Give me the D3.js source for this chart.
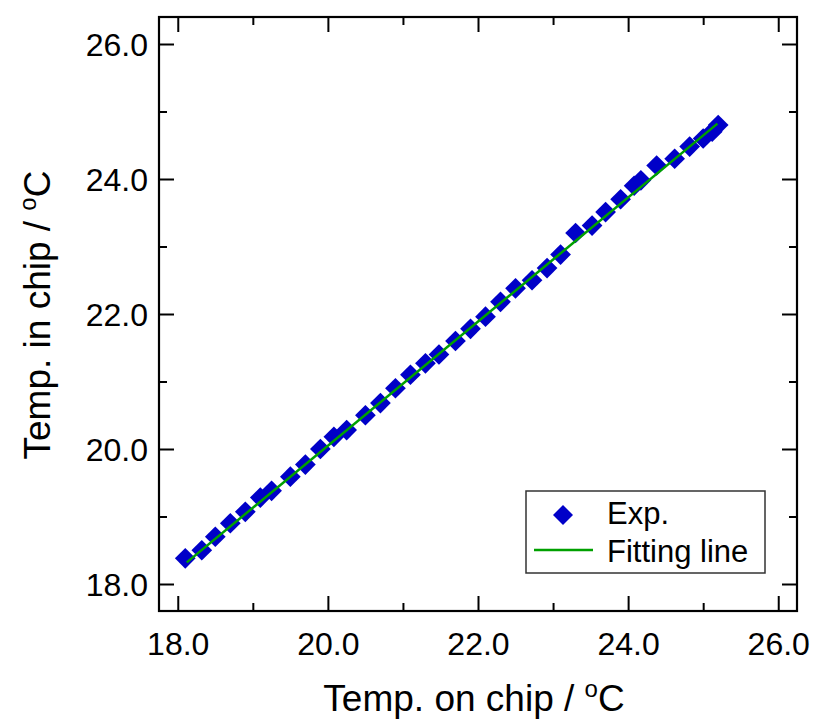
<!DOCTYPE html>
<html>
<head>
<meta charset="utf-8">
<script src="https://cdn.jsdelivr.net/npm/d3@7"></script>
<style>
  html, body { margin: 0; padding: 0; background: #fff; }
  svg { display: block; }
  text { font-family: "Liberation Sans", Arial, sans-serif; fill: #000; }
</style>
</head>
<body>
<svg id="chart" width="816" height="719"></svg>
<script>
// ---- data ----
const expX = [18.10, 18.32, 18.50, 18.70, 18.90, 19.10, 19.25, 19.50, 19.70, 19.90,
              20.08, 20.25, 20.50, 20.70, 20.90, 21.10, 21.30, 21.48, 21.70, 21.90,
              22.10, 22.30, 22.50, 22.72, 22.92, 23.10, 23.30, 23.52, 23.70, 23.90,
              24.08, 24.17, 24.38, 24.62, 24.82, 25.00, 25.12, 25.20];
const expY = [18.38, 18.50, 18.70, 18.90, 19.07, 19.28, 19.38, 19.59, 19.77, 20.00,
              20.18, 20.28, 20.50, 20.68, 20.90, 21.10, 21.27, 21.40, 21.60, 21.78,
              21.96, 22.18, 22.38, 22.50, 22.68, 22.88, 23.20, 23.31, 23.51, 23.70,
              23.90, 23.98, 24.20, 24.30, 24.48, 24.60, 24.70, 24.80];
const fitX = [18.12, 25.19];
const fitY = [18.32, 24.82];
const xTicks = [18, 20, 22, 24, 26];
const yTicks = [18, 20, 22, 24, 26];
const xMinor = [19, 21, 23, 25];
const yMinor = [19, 21, 23, 25];
const legendLabels = ["Exp.", "Fitting line"];

// ---- layout ----
const L = 159, R = 797, T = 17, B = 611;
const svg = d3.select("#chart");
const x = d3.scaleLinear().domain([17.75, 26.25]).range([L, R]);
const y = d3.scaleLinear().domain([17.6, 26.4]).range([B, T]);
const blue = "#0000c8", green = "#00a000";

// markers
const diamond = d3.symbol().type(d3.symbolSquare).size(215);
svg.append("g").selectAll("path").data(expX.map((v, i) => [v, expY[i]]))
  .join("path")
  .attr("d", diamond)
  .attr("fill", blue)
  .attr("transform", d => `translate(${x(d[0])},${y(d[1])}) rotate(45)`);

// fitting line
svg.append("path")
  .datum(fitX.map((v, i) => [v, fitY[i]]))
  .attr("d", d3.line().x(d => x(d[0])).y(d => y(d[1])))
  .attr("fill", "none").attr("stroke", green).attr("stroke-width", 2.5);

// axes with inner ticks
const fmt = d3.format(".1f");
function ax(gen, ticks, size, transform, label) {
  const g = svg.append("g").attr("transform", transform)
    .call(gen.tickValues(ticks).tickSize(size).tickFormat(label ? fmt : ""));
  g.select(".domain").remove();
  g.selectAll(".tick line").attr("stroke", "#000").attr("stroke-width", 2);
  return g;
}
// bottom
const gb = ax(d3.axisTop(x), xTicks, 15, `translate(0,${B})`, true);
gb.selectAll(".tick text").attr("y", 44).attr("dy", 0).style("font-size", "32px");
ax(d3.axisTop(x), xMinor, 8, `translate(0,${B})`, false);
// top
ax(d3.axisBottom(x), xTicks, 15, `translate(0,${T})`, false);
ax(d3.axisBottom(x), xMinor, 8, `translate(0,${T})`, false);
// left
const gl = ax(d3.axisRight(y), yTicks, 15, `translate(${L},0)`, true);
gl.selectAll(".tick text").attr("x", -11).attr("dy", "0.36em")
  .attr("text-anchor", "end").style("font-size", "32px");
ax(d3.axisRight(y), yMinor, 8, `translate(${L},0)`, false);
// right
ax(d3.axisLeft(y), yTicks, 15, `translate(${R},0)`, false);
ax(d3.axisLeft(y), yMinor, 8, `translate(${R},0)`, false);

// frame
svg.append("rect").attr("x", L).attr("y", T).attr("width", R - L).attr("height", B - T)
  .attr("fill", "none").attr("stroke", "#000").attr("stroke-width", 2.2);

// axis titles
const xt = svg.append("text").attr("x", (L + R) / 2 - 4).attr("y", 711)
  .attr("text-anchor", "middle").style("font-size", "37px");
xt.append("tspan").text("Temp. on chip / ");
xt.append("tspan").attr("dy", -14).style("font-size", "24px").text("o");
xt.append("tspan").attr("dy", 14).text("C");

const yt = svg.append("text")
  .attr("transform", `translate(50,${(T + B) / 2 + 1}) rotate(-90)`)
  .attr("text-anchor", "middle").style("font-size", "37px");
yt.append("tspan").text("Temp. in chip / ");
yt.append("tspan").attr("dy", -14).style("font-size", "24px").text("o");
yt.append("tspan").attr("dy", 14).text("C");

// legend
const lg = svg.append("g");
lg.append("rect").attr("x", 526).attr("y", 491).attr("width", 239).attr("height", 82)
  .attr("fill", "#fff").attr("stroke", "#333").attr("stroke-width", 1.5);
lg.append("path").attr("d", d3.symbol().type(d3.symbolSquare).size(200))
  .attr("fill", blue).attr("transform", "translate(563,515) rotate(45)");
lg.append("line").attr("x1", 534).attr("x2", 593).attr("y1", 550).attr("y2", 550)
  .attr("stroke", green).attr("stroke-width", 2.5);
lg.selectAll("text.lab").data(legendLabels).join("text").attr("class", "lab")
  .attr("x", 607).attr("y", (d, i) => 524 + i * 38)
  .style("font-size", "31px").text(d => d);
</script>
</body>
</html>
